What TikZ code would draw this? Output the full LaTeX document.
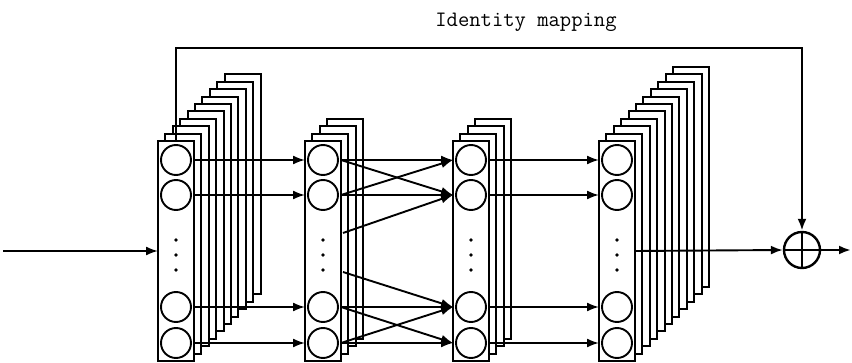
\documentclass[tikz,border=0pt]{standalone}
\usetikzlibrary{arrows.meta,calc}
\begin{document}
\begin{tikzpicture}[x=1pt,y=-1pt,line width=1.9pt,
  arr/.style={-{Latex[length=12pt,width=9pt]}},
  layerbox/.style={draw,fill=white,minimum width=36pt,minimum height=220pt,inner sep=0pt,outer sep=0pt},
  backbox/.style={draw,fill=white},
  neuron/.style={draw,circle,minimum size=30pt,inner sep=0pt},
  dotn/.style={circle,fill=black,inner sep=0pt,minimum size=3.6pt},
  sumnode/.style={draw,circle,minimum size=36pt,inner sep=0pt,line width=2.4pt}]
\useasboundingbox (0,0) rectangle (852,363);
% back rectangles
\foreach \x/\n in {158/9,305/3,453/3,599/10}{
  \foreach \i in {\n,...,1}{
    \draw[backbox] ({\x+7.4*\i},{141-7.4*\i}) rectangle ({\x+36+7.4*\i},{361-7.4*\i});
  }
}
% front layers
\foreach \k/\x in {1/158,2/305,3/453,4/599}{
  \node[layerbox,anchor=north west] (L\k) at (\x,141) {};
  \node[neuron] (c\k1) at (\x+18,160) {};
  \node[neuron] (c\k2) at (\x+18,195) {};
  \node[neuron] (c\k3) at (\x+18,307) {};
  \node[neuron] (c\k4) at (\x+18,343) {};
  \node[dotn] (d\k a) at (\x+18,240) {};
  \node[dotn] (d\k b) at (\x+18,255) {};
  \node[dotn] (d\k c) at (\x+18,270) {};
}
% sum node
\node[sumnode] (op) at (802,250) {};
\draw[line width=2.4pt] (op.north) -- (op.south) (op.west) -- (op.east);
% input / output
\coordinate (in) at (3,251);
\coordinate (out) at (851,250);
\draw[arr] (in) -- (L1.west);
\draw[arr] (L4.east) -- (op.west);
\draw[arr,line width=2.4pt] (op.east) -- (out);
% layer 1 -> 2 and 3 -> 4
\foreach \a/\b in {1/2,3/4}{
  \foreach \j in {1,2,3,4}{
    \draw[arr] (c\a\j -| L\a.east) -- (c\b\j -| L\b.west);
  }
}
% layer 2 -> 3
\coordinate (u) at (343,233);
\coordinate (v) at (343,272);
\draw[arr] (c21 -| L2.east) -- (c31 -| L3.west);
\draw[arr] (c21 -| L2.east) -- (c32 -| L3.west);
\draw[arr] (c22 -| L2.east) -- (c31 -| L3.west);
\draw[arr] (c22 -| L2.east) -- (c32 -| L3.west);
\draw[arr] (u) -- (c32 -| L3.west);
\draw[arr] (v) -- (c33 -| L3.west);
\draw[arr] (c23 -| L2.east) -- (c33 -| L3.west);
\draw[arr] (c23 -| L2.east) -- (c34 -| L3.west);
\draw[arr] (c24 -| L2.east) -- (c33 -| L3.west);
\draw[arr] (c24 -| L2.east) -- (c34 -| L3.west);
% identity mapping
\coordinate (idy) at (500,48);
\draw[arr,line width=2.4pt] (L1.north) -- (L1.north |- idy) -| (op.north);
\node[font=\fontsize{22}{26}\selectfont\ttfamily] (lab) at (526,22) {Identity mapping};
\end{tikzpicture}
\end{document}
